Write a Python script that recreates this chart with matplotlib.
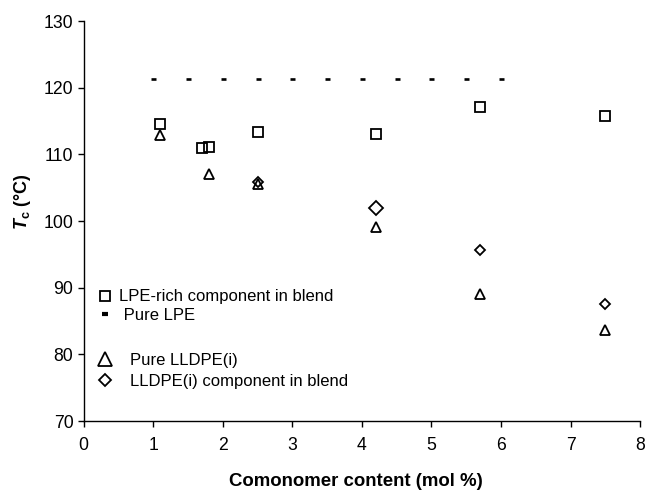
import matplotlib
matplotlib.use("Agg")
import matplotlib.pyplot as plt
from matplotlib.lines import Line2D

plt.rcParams['font.family'] = ['Liberation Sans', 'DejaVu Sans']
plt.rcParams['mathtext.fontset'] = 'custom'
plt.rcParams['mathtext.rm'] = 'Liberation Sans'
plt.rcParams['mathtext.it'] = 'Liberation Sans:italic'
plt.rcParams['mathtext.bf'] = 'Liberation Sans:bold'
plt.rcParams['mathtext.bfit'] = 'Liberation Sans:bold:italic'

# Data
x_blend_lpe = [1.1, 1.7, 1.8, 2.5, 4.2, 5.7, 7.5]
tc_blend_lpe = [114.6, 111.0, 111.1, 113.4, 113.0, 117.1, 115.8]

x_pure_lpe = [1.0, 1.5, 2.0, 2.5, 3.0, 3.5, 4.0, 4.5, 5.0, 5.5, 6.0]
tc_pure_lpe = [121.3] * 11

x_pure_lldpe = [1.1, 1.8, 2.5, 4.2, 5.7, 7.5]
tc_pure_lldpe = [112.9, 107.1, 105.5, 99.1, 89.1, 83.6]

x_blend_lldpe = [2.5, 4.2, 5.7, 7.5]
tc_blend_lldpe = [105.9, 102.0, 95.6, 87.6]

fig = plt.figure(figsize=(6.48, 4.92), dpi=100)
ax = fig.add_axes([0.129, 0.1443, 0.859, 0.813])

mk = dict(linestyle='none', markerfacecolor='none', markeredgecolor='black',
          markeredgewidth=1.3)
ax.plot(x_blend_lpe, tc_blend_lpe, marker='s', markersize=7, **mk)
ax.plot(x_pure_lpe, tc_pure_lpe, linestyle='none', marker='_', markersize=3.6,
        markeredgewidth=1.9, color='black')
ax.plot(x_pure_lldpe, tc_pure_lldpe, marker='^', markersize=7, **mk)
# the LLDPE(i) blend point at 4.2 mol % is drawn larger in the original
big = [i for i, x in enumerate(x_blend_lldpe) if x == 4.2]
small = [i for i in range(len(x_blend_lldpe)) if i not in big]
ax.plot([x_blend_lldpe[i] for i in small], [tc_blend_lldpe[i] for i in small],
        marker='D', markersize=5.3, **mk)
ax.plot([x_blend_lldpe[i] for i in big], [tc_blend_lldpe[i] for i in big],
        marker='D', markersize=7.2, **mk)

ax.set_xlim(0, 8)
ax.set_ylim(70, 130)
ax.set_xticks(range(0, 9))
ax.set_yticks(range(70, 131, 10))
for s in ['top', 'right']:
    ax.spines[s].set_visible(False)
for s in ['left', 'bottom']:
    ax.spines[s].set_linewidth(1.0)
ax.tick_params(direction='out', length=4.3, width=1.0, labelsize=12.7)
ax.tick_params(axis='x', pad=7)
ax.tick_params(axis='y', pad=3)

ax.set_xlabel('Comonomer content (mol %)', fontsize=13.4, fontweight='bold')
ax.xaxis.set_label_coords(0.49, -0.13)
ax.set_ylabel(r'$\mathbfit{T}_{\mathbf{c}}$ (°C)', fontsize=13, fontweight='bold')
ax.yaxis.set_label_coords(-0.091, 0.5475)

h_a = [
    Line2D([], [], marker='s', markersize=7.5, **mk),
    Line2D([], [], marker='_', markersize=5, markeredgewidth=3, color='black', linestyle='none'),
]
leg_a = ax.legend(h_a, ['LPE-rich component in blend', ' Pure LPE'], loc='center left',
                  bbox_to_anchor=(0.0115, 0.287), frameon=False, fontsize=12,
                  handlelength=1.0, handletextpad=0.35, labelspacing=0.22,
                  borderaxespad=0)
ax.add_artist(leg_a)
h_b = [
    Line2D([], [], marker='^', markersize=10, **mk),
    Line2D([], [], marker='D', markersize=6.3, **mk),
]
ax.legend(h_b, ['Pure LLDPE(i)', 'LLDPE(i) component in blend'], loc='center left',
          bbox_to_anchor=(0.0115, 0.126), frameon=False, fontsize=12,
          handlelength=1.0, handletextpad=1.0, labelspacing=0.35, borderaxespad=0)

fig.savefig('out.png', dpi=100)
